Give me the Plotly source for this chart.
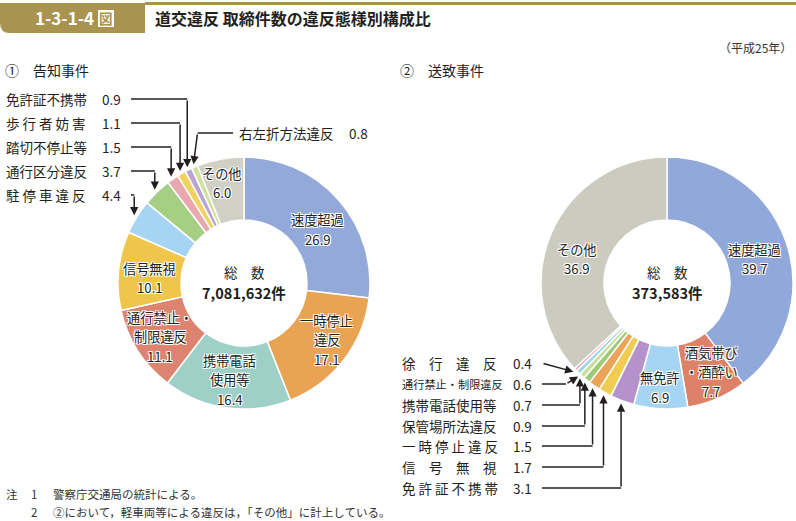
import math
import plotly.graph_objects as go

# ---------------- data ----------------
left_labels = ["速度超過", "一時停止違反", "携帯電話使用等", "通行禁止・制限違反", "信号無視",
               "駐停車違反", "通行区分違反", "踏切不停止等", "歩行者妨害", "免許証不携帯",
               "右左折方法違反", "その他"]
left_values = [26.9, 17.1, 16.4, 11.1, 10.1, 4.4, 3.7, 1.5, 1.1, 0.9, 0.8, 6.0]
left_total = "7,081,632件"

right_labels = ["速度超過", "酒気帯び・酒酔い", "無免許", "免許証不携帯", "信号無視",
                "一時停止違反", "保管場所法違反", "携帯電話使用等", "通行禁止・制限違反",
                "徐行違反", "その他"]
right_values = [39.7, 7.7, 6.9, 3.1, 1.7, 1.5, 0.9, 0.7, 0.6, 0.4, 36.9]
right_total = "373,583件"

# labels shown inside the ring (line by line)
left_inside = {"速度超過": ["速度超過"], "一時停止違反": ["一時停止", "違反"],
               "携帯電話使用等": ["携帯電話", "使用等"], "通行禁止・制限違反": ["通行禁止・", "制限違反"],
               "信号無視": ["信号無視"], "その他": ["その他"]}
right_inside = {"速度超過": ["速度超過"], "酒気帯び・酒酔い": ["酒気帯び", "・酒酔い"],
                "無免許": ["無免許"], "その他": ["その他"]}

# call-out display names
left_callout = {"免許証不携帯": "免許証不携帯", "歩行者妨害": "歩 行 者 妨 害",
                "踏切不停止等": "踏切不停止等", "通行区分違反": "通行区分違反",
                "駐停車違反": "駐 停 車 違 反"}
right_callout = {"徐行違反": "徐　行　違　反", "通行禁止・制限違反": "通行禁止・制限違反",
                 "携帯電話使用等": "携帯電話使用等", "保管場所法違反": "保管場所法違反",
                 "一時停止違反": "一 時 停 止 違 反", "信号無視": "信　号　無　視",
                 "免許証不携帯": "免 許 証 不 携 帯"}

left_colors = ["#93a9da", "#e9a453", "#9ed0c8", "#dd8470", "#efc54c", "#a6d5f3",
               "#a7cf84", "#e8a8ae", "#f0d25e", "#b9a2d4", "#cfe39c", "#d0d0c5"]
right_colors = ["#91a8da", "#dd8169", "#a6d4f3", "#b592cb", "#f0cd52", "#eca45a",
                "#9fcb78", "#c8e09c", "#9dd6e2", "#eaa6ae", "#cccbc0"]

# ---------------- geometry helpers ----------------
W, H = 796, 521
FONT = "Noto Sans CJK JP"
INK = "#231f20"


def px(x):
    return x / W


def py(y):
    return 1 - y / H


L_C = (244, 283)
R_C = (667, 283)
RAD = 126
HOLE = 0.5
LINE_H = 19.5
IN_SIZE = 13.2

# small nudges (pixels) for inside label placement
nudge = {("L", "速度超過"): (3, 9), ("L", "一時停止違反"): (8, -1), ("L", "信号無視"): (0, 4),
         ("L", "通行禁止・制限違反"): (-4, 3), ("L", "その他"): (-4, -7),
         ("L", "携帯電話使用等"): (-1, 3),
         ("R", "酒気帯び・酒酔い"): (7, 2), ("R", "無免許"): (-2, 10), ("R", "速度超過"): (-2, 6),
         ("R", "その他"): (-3, 14)}


def slice_mid(values, i):
    tot = sum(values)
    start = sum(values[:i]) / tot
    mid = start + values[i] / tot / 2
    return mid * 360.0


def polar(center, ang, r):
    a = math.radians(ang)
    return center[0] + r * math.sin(a), center[1] - r * math.cos(a)


fig = go.Figure()

for vals, labs, cols, c in [(left_values, left_labels, left_colors, L_C),
                            (right_values, right_labels, right_colors, R_C)]:
    fig.add_trace(go.Pie(
        values=vals, labels=labs, sort=False, direction="clockwise", rotation=0,
        hole=HOLE, textinfo="none", hoverinfo="label+value",
        marker=dict(colors=cols, line=dict(color="white", width=1.5)),
        domain=dict(x=[px(c[0] - RAD), px(c[0] + RAD)],
                    y=[py(c[1] + RAD), py(c[1] - RAD)]),
        showlegend=False,
    ))

annotations = []
shapes = []
SHADOW = "-1px -1px 0 #fff, 1px -1px 0 #fff, -1px 1px 0 #fff, 1px 1px 0 #fff, 0 0 2px #fff"


def text(x, y, s, size=13, anchor="left", color=INK, bold=False, yanchor="middle", shadow=None):
    f = dict(family=FONT, size=size, color=color)
    if shadow:
        f["shadow"] = shadow
    annotations.append(dict(
        x=px(x), y=py(y), xref="paper", yref="paper", text=("<b>%s</b>" % s) if bold else s,
        showarrow=False, xanchor=anchor, yanchor=yanchor, font=f, align="center",
        borderpad=0))


# inside labels
label_r = RAD * (1 + HOLE) / 2
for side, vals, labs, inside, c in [("L", left_values, left_labels, left_inside, L_C),
                                    ("R", right_values, right_labels, right_inside, R_C)]:
    for i, lab in enumerate(labs):
        if lab in inside:
            ang = slice_mid(vals, i)
            x, y = polar(c, ang, label_r)
            dx, dy = nudge.get((side, lab), (0, 0))
            lines = inside[lab] + ["%.1f" % vals[i]]
            n = len(lines)
            for j, ln in enumerate(lines):
                text(x + dx, y + dy + (j - (n - 1) / 2) * LINE_H, ln, size=IN_SIZE,
                     anchor="center", shadow=SHADOW)

# centre totals
for c, tot in [(L_C, left_total), (R_C, right_total)]:
    text(c[0], c[1] - 11, "総　数", size=13.5, anchor="center")
    text(c[0], c[1] + 9, tot, size=14.5, anchor="center", bold=True)


def arrow(x0, y0, x1, y1):
    annotations.append(dict(
        x=px(x1), y=py(y1), xref="paper", yref="paper", ax=x0 - x1, ay=y0 - y1,
        axref="pixel", ayref="pixel", text="", showarrow=True, arrowhead=2,
        arrowsize=1.1, arrowwidth=1.5, arrowcolor=INK))


def hline(x0, x1, y):
    shapes.append(dict(type="line", xref="paper", yref="paper", x0=px(x0), x1=px(x1),
                       y0=py(y), y1=py(y), line=dict(color=INK, width=1.5)))


# left call-outs
left_rows = ["免許証不携帯", "歩行者妨害", "踏切不停止等", "通行区分違反", "駐停車違反"]
row_y = [99, 123, 147, 171, 195]
for lab, y in zip(left_rows, row_y):
    i = left_labels.index(lab)
    tx, ty = polar(L_C, slice_mid(left_values, i), RAD + 3)
    text(5, y, left_callout[lab], size=13.5)
    text(101, y, "%.1f" % left_values[i], size=13.5)
    hline(131, tx, y)
    arrow(tx, y, tx, ty)

i = left_labels.index("右左折方法違反")
tx, ty = polar(L_C, slice_mid(left_values, i), RAD + 3)
text(238, 133, "右左折方法違反", size=13.5)
text(348, 133, "%.1f" % left_values[i], size=13.5)
hline(233, tx + 4, 133)
arrow(tx + 4, 133, tx, ty)

# right call-outs
right_rows = ["徐行違反", "通行禁止・制限違反", "携帯電話使用等", "保管場所法違反",
              "一時停止違反", "信号無視", "免許証不携帯"]
rrow_y = [363, 384, 405, 426, 446, 467, 488]
for k, (lab, y) in enumerate(zip(right_rows, rrow_y)):
    i = right_labels.index(lab)
    tx, ty = polar(R_C, slice_mid(right_values, i), RAD + 3)
    size = 11.2 if lab == "通行禁止・制限違反" else 13.5
    text(401, y, right_callout[lab], size=size)
    text(512, y, "%.1f" % right_values[i], size=13.5)
    if k == 0:
        arrow(542, y, tx, ty)
    elif k == 1:
        hline(542, 566, y)
        arrow(566, y, tx + 2, ty + 2)
    else:
        hline(542, tx, y)
        arrow(tx, y, tx, ty)

# header
GOLD = "#a8934f"
shapes.append(dict(type="path", xref="paper", yref="paper",
                   path="M %f %f L %f %f L %f %f L %f %f Q %f %f %f %f Z" % (
                       px(0), py(3), px(145), py(3), px(145), py(33), px(10), py(33),
                       px(0), py(33), px(0), py(23)),
                   fillcolor=GOLD, line=dict(width=0)))
shapes.append(dict(type="rect", xref="paper", yref="paper", x0=px(145), x1=px(796),
                   y0=py(5), y1=py(2), fillcolor=GOLD, line=dict(width=0)))
shapes.append(dict(type="rect", xref="paper", yref="paper", x0=px(98), x1=px(114),
                   y0=py(27), y1=py(10), fillcolor="white", line=dict(width=0)))
text(95, 18, "1-3-1-4", size=17, anchor="right", color="white", bold=True)
text(106, 18.5, "図", size=13.5, anchor="center", color=GOLD, bold=True)
text(154, 18, "道交違反 取締件数の違反態様別構成比", size=16, bold=True)
text(793, 47, "（平成25年）", size=12, anchor="right", color="#333")
text(4, 70, "①　告知事件", size=14)
text(399, 70, "②　送致事件", size=14)

# footnotes
text(5, 494, "注", size=11.5, color="#333")
text(30, 494, "1", size=11.5, color="#333")
text(52, 494, "警察庁交通局の統計による。", size=11.5, color="#333")
text(30, 512, "2", size=11.5, color="#333")
text(52, 512, "②において，軽車両等による違反は，「その他」に計上している。", size=11.5, color="#333")

fig.update_layout(
    width=W, height=H, margin=dict(l=0, r=0, t=0, b=0),
    paper_bgcolor="white", plot_bgcolor="white",
    font=dict(family=FONT, color=INK),
    annotations=annotations, shapes=shapes, showlegend=False,
)

fig.write_html("out.html", config={"displayModeBar": False},
               post_script="document.body.style.margin='0px';document.body.style.overflow='hidden';")
